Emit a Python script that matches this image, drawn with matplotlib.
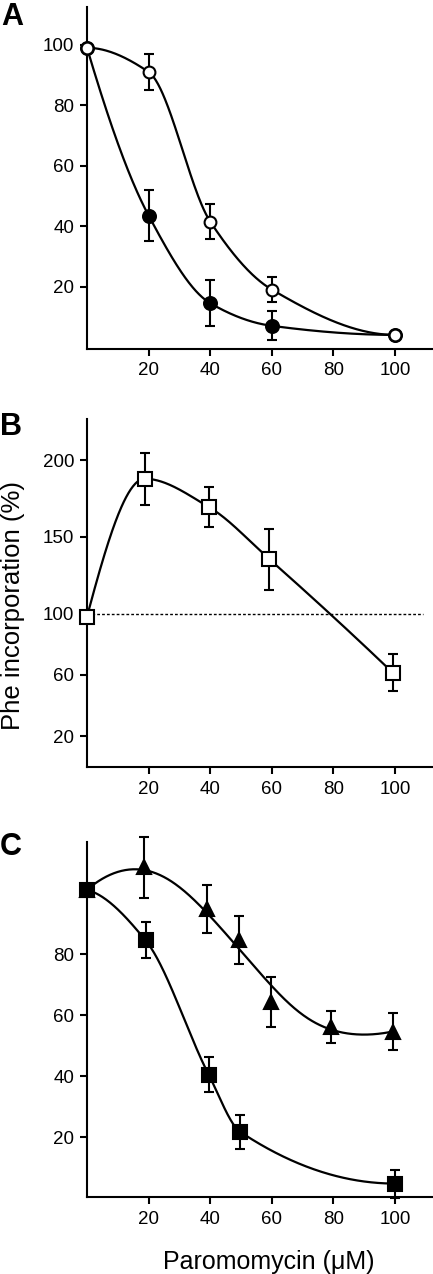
import numpy as np
import matplotlib
matplotlib.use("Agg")
import matplotlib.pyplot as plt

plt.rcParams['font.family'] = ['Liberation Sans', 'DejaVu Sans']

# panel A: two series, circles
x_a = [0, 20, 40, 60, 100]
filled_a = [99, 43.5, 14.5, 7, 4]
filled_a_err = [0, 8.4, 7.6, 4.8, 0]
open_a = [99, 91, 41.5, 19, 4]
open_a_err = [0, 5.8, 5.9, 4.2, 0]

# panel B: open squares, Phe incorporation
x_b = [0, 18.7, 39.6, 59.2, 99.3]
phe_b = [98, 188, 169.5, 135.5, 61.3]
phe_b_err = [0, 17, 12.8, 20, 12]
baseline_b = 100

# panel C: filled squares and triangles
x_sq = [0, 19, 39.5, 49.8, 100]
sq_c = [101, 84.5, 40.5, 21.7, 4.8]
sq_c_err = [0, 5.9, 5.8, 5.7, 4.6]
x_tri = [0, 18.5, 39, 49.5, 59.7, 79.3, 99.5]
tri_c = [101, 108.5, 94.7, 84.6, 64.2, 56.2, 54.6]
tri_c_err = [0, 10, 7.9, 8, 8.2, 5.2, 6.1]

x_ticks = [20, 40, 60, 80, 100]
yticks_a = [20, 40, 60, 80, 100]
yticks_b = [20, 60, 100, 150, 200]
yticks_c = [20, 40, 60, 80]


def pchip(x, y, xs):
    # monotone cubic (Fritsch-Carlson) through the points
    x = np.asarray(x, float)
    y = np.asarray(y, float)
    h = np.diff(x)
    d = np.diff(y) / h
    n = len(x)
    m = np.zeros(n)
    for k in range(1, n - 1):
        if d[k - 1] * d[k] > 0:
            w1 = 2 * h[k] + h[k - 1]
            w2 = h[k] + 2 * h[k - 1]
            m[k] = (w1 + w2) / (w1 / d[k - 1] + w2 / d[k])
    for end, (h0, h1, d0, d1) in ((0, (h[0], h[1], d[0], d[1])),
                                  (n - 1, (h[-1], h[-2], d[-1], d[-2]))):
        s = ((2 * h0 + h1) * d0 - h0 * d1) / (h0 + h1)
        if np.sign(s) != np.sign(d0):
            s = 0
        elif np.sign(d0) != np.sign(d1) and abs(s) > abs(3 * d0):
            s = 3 * d0
        m[end] = s
    i = np.clip(np.searchsorted(x, xs) - 1, 0, n - 2)
    t = (xs - x[i]) / h[i]
    h00 = 2 * t**3 - 3 * t**2 + 1
    h10 = t**3 - 2 * t**2 + t
    h01 = -2 * t**3 + 3 * t**2
    h11 = t**3 - t**2
    return h00 * y[i] + h10 * h[i] * m[i] + h01 * y[i + 1] + h11 * h[i] * m[i + 1]


def local_quad(x, y, xs, bw=18.0):
    # gaussian-weighted local quadratic smoother
    x = np.asarray(x, float)
    y = np.asarray(y, float)
    out = np.empty_like(xs)
    for j, x0 in enumerate(xs):
        dx = x - x0
        w = np.sqrt(np.exp(-0.5 * (dx / bw) ** 2))
        A = np.vstack([np.ones_like(dx), dx, dx**2]).T * w[:, None]
        coef = np.linalg.lstsq(A, y * w, rcond=None)[0]
        out[j] = coef[0]
    return out


def style(ax, ylim, yticks):
    for s in ['top', 'right']:
        ax.spines[s].set_visible(False)
    for s in ['left', 'bottom']:
        ax.spines[s].set_linewidth(1.5)
    ax.set_xlim(0, 112)
    ax.set_ylim(*ylim)
    ax.set_xticks(x_ticks)
    ax.set_yticks(yticks)
    ax.tick_params(direction='out', length=5, width=1.5, labelsize=13.5)
    ax.tick_params(axis='x', pad=5)
    ax.tick_params(axis='y', pad=4)


def points(ax, x, y, e, marker, face, size):
    x = np.asarray(x, float)
    y = np.asarray(y, float)
    e = np.asarray(e, float)
    k = e > 0
    eb = ax.errorbar(x[k], y[k], yerr=e[k], fmt='none', ecolor='k',
                     elinewidth=1.5, capsize=3.6, capthick=1.5, zorder=3)
    for art in list(eb.lines[1]) + list(eb.lines[2]):
        art.set_clip_on(False)
    ax.plot(x, y, linestyle='none', marker=marker, mfc=face, mec='k',
            mew=1.5, ms=size, zorder=4, clip_on=False)


def curve(ax, x, y, smooth=False):
    xs = np.linspace(x[0], x[-1], 400)
    ys = local_quad(x, y, xs) if smooth else pchip(x, y, xs)
    ax.plot(xs, ys, color='k', lw=1.6, zorder=2, clip_on=False)


fig = plt.figure(figsize=(4.33, 12.74), dpi=100)
W, H = 433, 1274

axA = fig.add_axes([87 / W, 1 - 348.5 / H, 345 / W, 341.5 / H])
style(axA, (-0.5, 112.5), yticks_a)
curve(axA, x_a, filled_a)
curve(axA, x_a, open_a)
points(axA, x_a, filled_a, filled_a_err, 'o', 'k', 9.3)
points(axA, x_a, open_a, open_a_err, 'o', 'white', 8.5)

axB = fig.add_axes([87 / W, 1 - 766.7 / H, 345 / W, 347.7 / H])
style(axB, (0, 227), yticks_b)
axB.axhline(baseline_b, xmax=0.975, color='k', lw=1, ls=(0, (2, 1.5)), zorder=1)
curve(axB, x_b, phe_b)
points(axB, x_b, phe_b, phe_b_err, 's', 'white', 9.5)

axC = fig.add_axes([87 / W, 1 - 1197 / H, 345 / W, 355 / H])
style(axC, (0.4, 116.7), yticks_c)
curve(axC, x_sq, sq_c)
curve(axC, x_tri, tri_c, smooth=True)
points(axC, x_tri, tri_c, tri_c_err, '^', 'k', 10.5)
points(axC, x_sq, sq_c, sq_c_err, 's', 'k', 9.5)

fig.text(1 / W, 1 - 25 / H, 'A', fontsize=22, fontweight='bold', va='baseline')
fig.text(0 / W, 1 - 435 / H, 'B', fontsize=22, fontweight='bold', va='baseline')
fig.text(0 / W, 1 - 855 / H, 'C', fontsize=22, fontweight='bold', va='baseline')

fig.text(13 / W, 1 - 605 / H, 'Phe incorporation (%)', rotation=90,
         fontsize=18.5, ha='center', va='center')
fig.text(269 / W, 1 - 1262 / H, 'Paromomycin (\u03bcM)', fontsize=18,
         ha='center', va='center')

fig.savefig('out.png', dpi=100)
